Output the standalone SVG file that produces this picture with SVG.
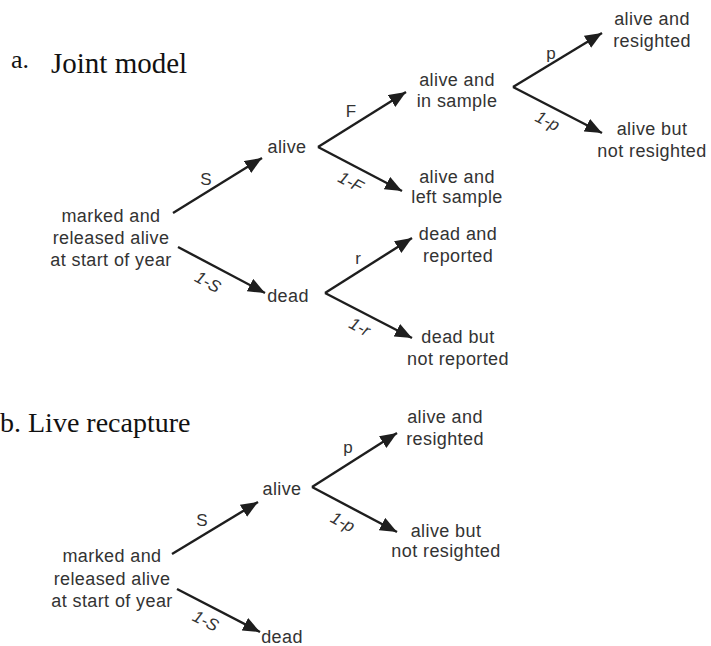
<svg xmlns="http://www.w3.org/2000/svg" width="711" height="646" viewBox="0 0 711 646">
<defs>
<marker id="ah" markerUnits="userSpaceOnUse" markerWidth="18" markerHeight="14" refX="17" refY="7" orient="auto" viewBox="0 0 18 14">
<path d="M0,0 L17,7 L0,14 z" fill="#1e1e1e"/>
</marker>
<style>
.t{font-family:"Liberation Sans",Arial,sans-serif;font-size:18px;fill:#333;letter-spacing:0.4px;text-anchor:middle}
.lb{font-family:"Liberation Sans",Arial,sans-serif;font-size:17px;fill:#333;text-anchor:middle}
.li{font-family:"Liberation Sans",Arial,sans-serif;font-size:17px;font-style:italic;fill:#333;text-anchor:middle}
.ti{font-family:"Liberation Serif","Times New Roman",serif;fill:#111}
.c line{stroke:#1e1e1e;stroke-width:2.4;marker-end:url(#ah)}
</style>
</defs>
<rect width="711" height="646" fill="#fff"/>

<text class="ti" x="11" y="68" font-size="26">a.</text>
<text class="ti" x="51" y="73" font-size="29">Joint model</text>
<text class="ti" x="0" y="432" font-size="28">b. Live recapture</text>

<g id="a-start"><text class="t" x="111" y="222">marked and</text><text class="t" x="111" y="244">released alive</text><text class="t" x="111" y="266">at start of year</text></g>
<g id="a-alive"><text class="t" x="287" y="153">alive</text></g>
<g id="a-dead"><text class="t" x="288" y="302">dead</text></g>
<g id="a-insample"><text class="t" x="457" y="86">alive and</text><text class="t" x="457" y="107">in sample</text></g>
<g id="a-leftsample"><text class="t" x="457" y="183">alive and</text><text class="t" x="457" y="203">left sample</text></g>
<g id="a-resighted"><text class="t" x="652" y="25">alive and</text><text class="t" x="652" y="47">resighted</text></g>
<g id="a-notresighted"><text class="t" x="652" y="135">alive but</text><text class="t" x="652" y="157">not resighted</text></g>
<g id="a-reported"><text class="t" x="458" y="240">dead and</text><text class="t" x="458" y="262">reported</text></g>
<g id="a-notreported"><text class="t" x="458" y="343">dead but</text><text class="t" x="458" y="365">not reported</text></g>

<g id="b-start"><text class="t" x="112" y="562">marked and</text><text class="t" x="112" y="585">released alive</text><text class="t" x="112" y="607">at start of year</text></g>
<g id="b-alive"><text class="t" x="282" y="495">alive</text></g>
<g id="b-dead"><text class="t" x="282" y="643">dead</text></g>
<g id="b-resighted"><text class="t" x="445" y="423">alive and</text><text class="t" x="445" y="445">resighted</text></g>
<g id="b-notresighted"><text class="t" x="446" y="537">alive but</text><text class="t" x="446" y="557">not resighted</text></g>

<g id="connectors" class="c">
<line x1="173" y1="213" x2="262" y2="158"/>
<line x1="178" y1="247" x2="265" y2="293"/>
<line x1="318" y1="147" x2="406" y2="92"/>
<line x1="318" y1="147" x2="402" y2="191"/>
<line x1="513" y1="87" x2="602" y2="33"/>
<line x1="513" y1="87" x2="602" y2="133"/>
<line x1="325" y1="293" x2="412" y2="238"/>
<line x1="325" y1="293" x2="412" y2="338"/>
<line x1="172" y1="554" x2="258" y2="502"/>
<line x1="177" y1="589" x2="260" y2="632"/>
<line x1="312" y1="487" x2="397" y2="433"/>
<line x1="312" y1="487" x2="397" y2="532"/>
</g>

<g id="labels">
<text class="lb" x="206" y="185">S</text>
<text class="li" transform="translate(205,287) rotate(29)">1-S</text>
<text class="lb" x="351" y="117">F</text>
<text class="li" transform="translate(348,187) rotate(28)">1-F</text>
<text class="lb" x="551" y="59">p</text>
<text class="li" transform="translate(545,126) rotate(27)">1-p</text>
<text class="lb" x="358" y="264">r</text>
<text class="li" transform="translate(357,332) rotate(28)">1-r</text>
<text class="lb" x="202" y="526">S</text>
<text class="li" transform="translate(203,626) rotate(27)">1-S</text>
<text class="lb" x="348" y="453">p</text>
<text class="li" transform="translate(340,527) rotate(28)">1-p</text>
</g>
</svg>
